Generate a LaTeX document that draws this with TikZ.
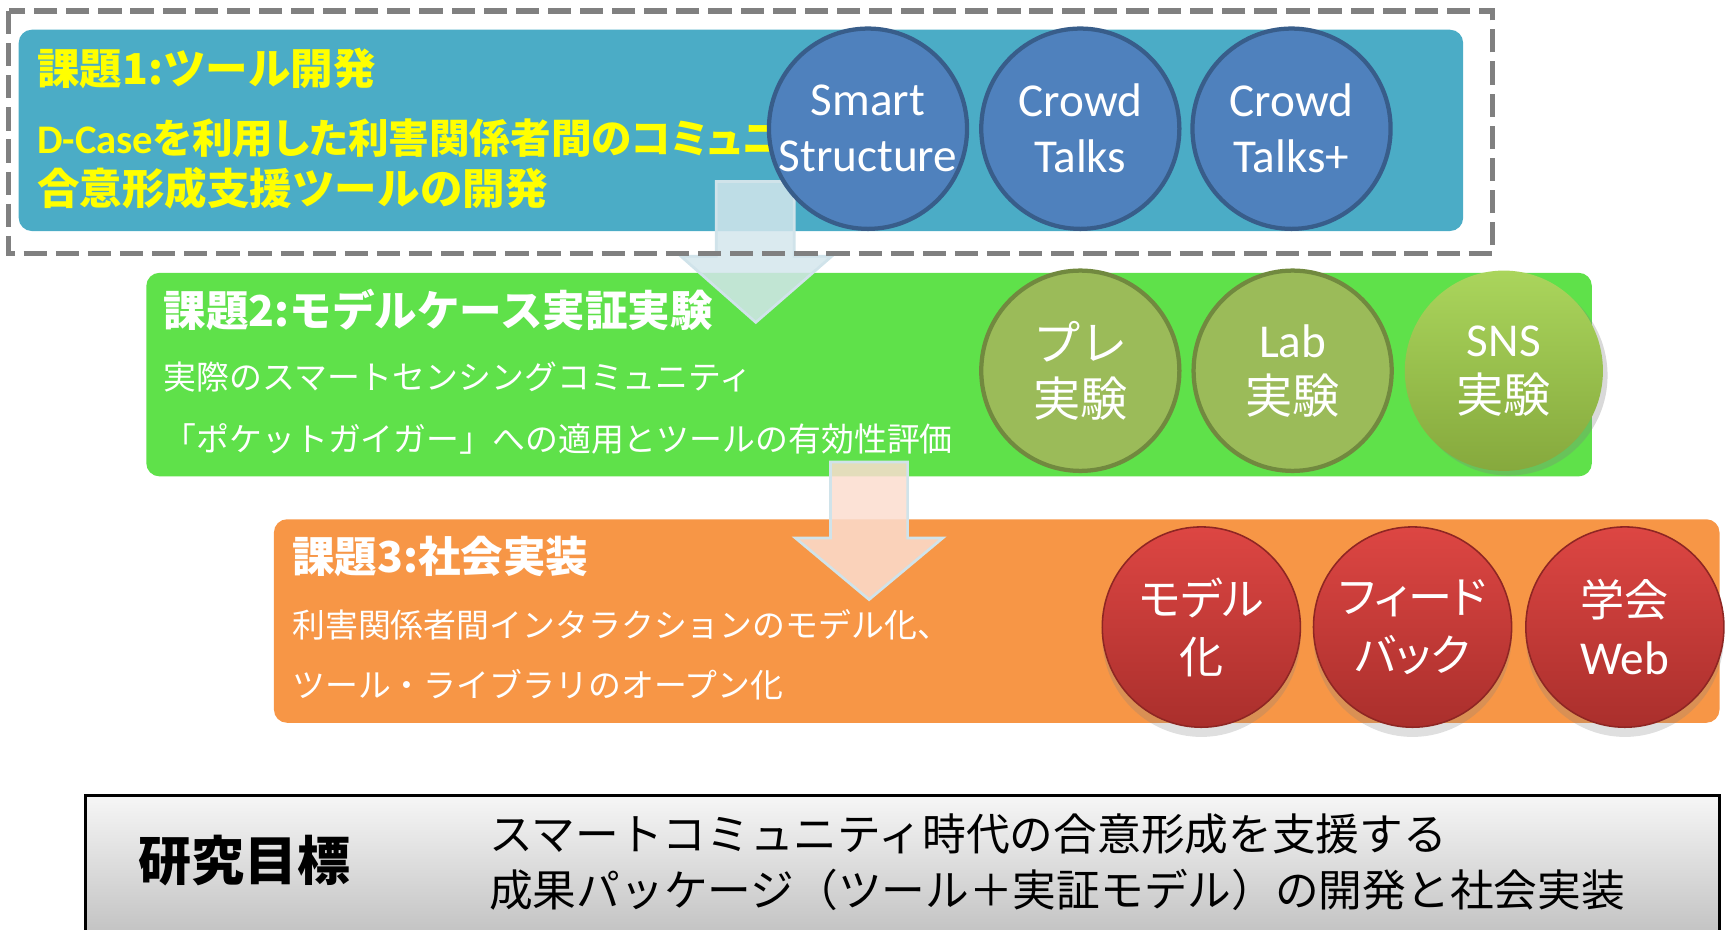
\documentclass[tikz,border=0pt]{standalone}
\usepackage{fontspec}
\setmainfont{Carlito}
\newfontfamily\jp{Noto Sans CJK JP}
\newfontfamily\jpp[RawFeature=+palt]{Noto Sans CJK JP}
\usetikzlibrary{shapes.geometric,shadows}
\definecolor{boxblue}{HTML}{4BACC6}
\definecolor{ellblue}{HTML}{4F81BD}
\definecolor{ellblueline}{HTML}{385D8A}
\definecolor{dashgray}{HTML}{808080}
\definecolor{boxgreen}{HTML}{5FE14A}
\definecolor{ellgreen}{HTML}{9BBB59}
\definecolor{ellgreenline}{HTML}{71893F}
\definecolor{snstop}{HTML}{AAD55C}
\definecolor{snsbot}{HTML}{86A93D}
\definecolor{boxorange}{HTML}{F79646}
\definecolor{redtop}{HTML}{DD4643}
\definecolor{redbot}{HTML}{AA2F2C}
\definecolor{redline}{HTML}{8E2623}
\definecolor{arrowblue}{HTML}{D3E6EC}
\definecolor{arrowblueline}{HTML}{D0E3EA}
\definecolor{arrowpeach}{HTML}{FBDDCF}
\definecolor{titleyellow}{HTML}{FFFF00}
\definecolor{goaltop}{HTML}{F6F6F6}
\definecolor{goalbot}{HTML}{AEAEAE}
\begin{document}
\begin{tikzpicture}[x=0.01cm,y=-0.01cm,
  panel/.style={rounded corners=3.4pt},
  txt/.style={anchor=west,inner sep=0pt},
  ttl/.style={txt,font=\jp\bfseries\fontsize{11}{13}\selectfont},
  body/.style={txt,text=white,font=\jp\fontsize{8.5}{10}\selectfont},
  bubble/.style={ellipse,minimum width=1.8cm,minimum height=1.82cm,inner sep=0pt},
  bubtext/.style={inner sep=0pt,align=center,text=white,font=\fontsize{12.2}{14.5}\selectfont},
  redtext/.style={bubtext,font=\jpp\fontsize{11.4}{15}\selectfont},
  blueball/.style={bubble,fill=ellblue,draw=ellblueline,line width=1.1pt},
  greenball/.style={bubble,fill=ellgreen,draw=ellgreenline,line width=1.1pt},
  snsball/.style={bubble,top color=snstop,bottom color=snsbot,
     drop shadow={opacity=0.3,shadow xshift=1.2pt,shadow yshift=-1.2pt}},
  redball/.style={bubble,top color=redtop,bottom color=redbot,draw=redline,line width=0.4pt,
     drop shadow={opacity=0.25,shadow xshift=0pt,shadow yshift=-2.5pt}},
  blockarrow/.style={line width=0.7pt,line join=miter}
]
\useasboundingbox (0,0) rectangle (1568,845);
\clip (0,0) rectangle (1568,845);

% ---- Task 1 ----
\fill[boxblue,panel] (17,27) rectangle (1330,210);
\node[ttl,text=titleyellow] (t1) at (33,62) {課題1:ツール開発};
\node[ttl,text=titleyellow,font=\jpp\bfseries\fontsize{10.5}{13}\selectfont] (t1a) at (33,126) {{\rmfamily\bfseries D-Case}を利用した利害関係者間のコミュニ};
\node[ttl,text=titleyellow] (t1b) at (33,171) {合意形成支援ツールの開発};

% ---- Task 2 box ----
\fill[boxgreen,panel] (133,248) rectangle (1447,433);
\node[ttl,text=white] (t2) at (148,282) {課題2:モデルケース実証実験};
\node[body] (t2a) at (148,343) {実際のスマートセンシングコミュニティ};
\node[body] (t2b) at (148,399) {「ポケットガイガー」への適用とツールの有効性評価};

% ---- arrow 1 ----
\draw[blockarrow,fill=arrowblue,draw=arrowblueline,fill opacity=0.85]
  (651,165) -- (722,165) -- (722,233) -- (756,233) -- (687,293) -- (619,233) -- (651,233) -- cycle;

% ---- dashed frame ----
\draw[dashgray,line width=1.3pt,dash pattern=on 6pt off 2.3pt] (8,10) rectangle (1357,230);

% ---- blue bubbles ----
\node[blueball] (s1) at (789,117) {};
\node[blueball] (s2) at (982,117) {};
\node[blueball] (s3) at (1174,117) {};
\node[bubtext] (s1t) at (s1) {Smart\\Structure};
\node[bubtext] (s2t) at (s2) {Crowd\\Talks};
\node[bubtext] (s3t) at (s3) {Crowd\\Talks+};

% ---- green bubbles ----
\node[greenball] (g1) at (982,337) {};
\node[greenball] (g2) at (1175,337) {};
\node[snsball] (g3) at (1367,337) {};
\node[bubtext] (g1t) at (g1) {{\jp プレ}\\{\jp 実験}};
\node[bubtext] (g2t) at (g2) {Lab\\{\jp 実験}};
\node[bubtext] (g3t) at (g3) {SNS\\{\jp 実験}};

% ---- Task 3 ----
\fill[boxorange,panel] (249,472) rectangle (1563,657);
\node[ttl,text=white] (t3) at (265,506) {課題3:社会実装};
\node[body] (t3a) at (265,568) {利害関係者間インタラクションのモデル化、};
\node[body] (t3b) at (265,622) {ツール・ライブラリのオープン化};

% ---- arrow 2 ----
\draw[blockarrow,fill=arrowpeach,draw=arrowblueline,fill opacity=0.85]
  (755,420) -- (825,420) -- (825,489) -- (857,489) -- (790,545) -- (723,489) -- (755,489) -- cycle;

% ---- red bubbles ----
\node[redball] (r1) at (1092,570) {};
\node[redball] (r2) at (1284,570) {};
\node[redball] (r3) at (1477,570) {};
\node[redtext] (r1t) at (r1) {モデル\\化};
\node[redtext] (r2t) at (r2) {フィード\\バック};
\node[redtext] (r3t) at (r3) {学会\\{\rmfamily\fontsize{12.2}{15}\selectfont Web}};

% ---- goal box ----
\path[draw=black,line width=0.7pt,top color=goaltop,bottom color=goalbot] (78,723) rectangle (1563,900);
\node[txt,font=\jp\bfseries\fontsize{13.7}{16}\selectfont] (goal) at (125,782) {研究目標};
\node[txt,align=left,font=\jp\fontsize{11.3}{14.5}\selectfont] (goaltext) at (444,784) {スマートコミュニティ時代の合意形成を支援する\\成果パッケージ（ツール＋実証モデル）の開発と社会実装};
\end{tikzpicture}
\end{document}
